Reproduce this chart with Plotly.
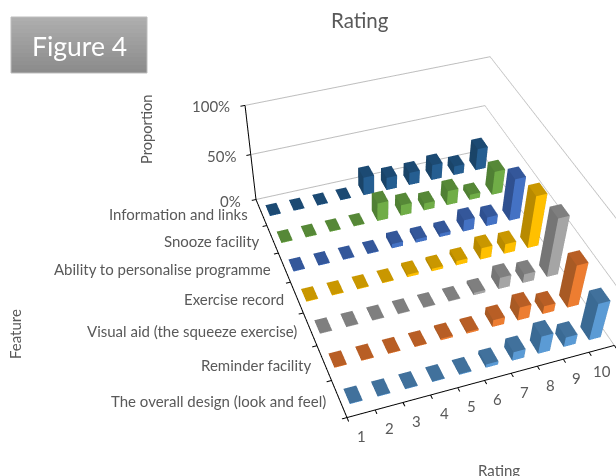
import plotly.graph_objects as go

features = ["The overall design (look and feel)", "Reminder facility",
            "Visual aid (the squeeze exercise)", "Exercise record",
            "Ability to personalise programme", "Snooze facility",
            "Information and links"]
ratings = [1, 2, 3, 4, 5, 6, 7, 8, 9, 10]
proportion_ticks = [0, 0.5, 1]
proportion_labels = ["0%", "50%", "100%"]

overall_design = [0.7, 0.7, 0.7, 0.7, 1, 4, 10, 20, 11, 41]
reminder = [0.7, 0.7, 0.7, 0.7, 2, 2, 8, 15, 9, 47]
visual_aid = [0.7, 0.7, 0.7, 0.7, 0.7, 0.7, 3, 13, 10, 64]
exercise_record = [0.7, 0.7, 0.7, 0.7, 3, 3, 5, 13, 11, 57]
personalise = [0.7, 0.7, 0.7, 0.7, 5, 4, 4, 13, 10, 46]
snooze = [0.7, 0.7, 0.7, 0.7, 20, 12, 8, 16, 6, 26]
information = [0.7, 0.7, 0.7, 0.7, 20, 14, 14, 17, 10, 24]
series = [overall_design, reminder, visual_aid, exercise_record, personalise, snooze, information]

# (front, side, top)
colors = [("#5B9BD5", "#3A6A94", "#41719C"), ("#ED7D31", "#A85A24", "#B85E25"),
          ("#A5A5A5", "#757575", "#7F7F7F"), ("#FFC000", "#B88A00", "#C99700"),
          ("#4472C4", "#2F5090", "#34579A"), ("#70AD47", "#508034", "#568837"),
          ("#255E91", "#1A4468", "#1C4A73")]

FW, FH, TOP = 714, 793, -8
GREY = "#595959"
FONT = "Lato"
BAR_X, BAR_Y = 0.46, 0.40
TICK_SIZE = 15


def box(xc, yc, h):
    x0, x1 = xc - BAR_X / 2, xc + BAR_X / 2
    y0, y1 = yc - BAR_Y / 2, yc + BAR_Y / 2
    return [(x0, y0, 0), (x1, y0, 0), (x1, y1, 0), (x0, y1, 0),
            (x0, y0, h), (x1, y0, h), (x1, y1, h), (x0, y1, h)]


# triangles with the face they belong to
FACES = [((0, 1, 5), 0), ((0, 5, 4), 0),   # front
         ((0, 4, 7), 1), ((0, 7, 3), 1),   # left
         ((4, 5, 6), 2), ((4, 6, 7), 2),   # top
         ((1, 2, 6), 1), ((1, 6, 5), 1),   # right
         ((3, 7, 6), 1), ((3, 6, 2), 1)]   # back

fig = go.Figure()
for row, (vals, cols) in enumerate(zip(series, colors), start=1):
    xs, ys, zs, ii, jj, kk, fc = [], [], [], [], [], [], []
    for r, v in zip(ratings, vals):
        base = len(xs)
        for px_, py_, pz_ in box(r, row, v / 100):
            xs.append(px_); ys.append(py_); zs.append(pz_)
        for (a, b, c), f in FACES:
            ii.append(base + a); jj.append(base + b); kk.append(base + c)
            fc.append(cols[f])
    fig.add_trace(go.Mesh3d(x=xs, y=ys, z=zs, i=ii, j=jj, k=kk, facecolor=fc,
                            flatshading=True, hoverinfo="skip", name=features[row - 1],
                            lighting=dict(ambient=1, diffuse=0, specular=0, fresnel=0, roughness=1)))


def ax(**kw):
    base = dict(title=dict(text=""), showbackground=False, showspikes=False, zeroline=False,
                showline=True, linecolor="black", linewidth=2, ticks="outside", ticklen=4,
                tickcolor="black", tickwidth=2, tickangle=0, autorange=False,
                tickfont=dict(family=FONT, size=TICK_SIZE, color=GREY))
    base.update(kw)
    return base


def pxx(x):
    return x / FW


def pxy(y):
    return 1 - (y - TOP) / FH


annos = [
    dict(x=pxx(360), y=pxy(20), text="Rating", font=dict(size=20.5)),
    dict(x=pxx(499), y=pxy(470), text="Rating", font=dict(size=15)),
    dict(x=pxx(146), y=pxy(129), text="Proportion", textangle=-90, font=dict(size=14.7)),
    dict(x=pxx(15), y=pxy(334), text="Feature", textangle=-90, font=dict(size=15)),
    dict(x=pxx(79), y=pxy(46), text="Figure 4", font=dict(size=26.5, color="white")),
]
for a in annos:
    a.update(xref="paper", yref="paper", showarrow=False, xanchor="center", yanchor="middle")
    a["font"] = dict(family=FONT, color=a["font"].get("color", GREY), size=a["font"]["size"])

shapes = []
BANDS = 14
for b in range(BANDS):
    g = int(174 - (174 - 140) * b / (BANDS - 1))
    shapes.append(dict(type="rect", xref="paper", yref="paper", x0=pxx(11), x1=pxx(147),
                       y0=pxy(17 + 56 * b / BANDS), y1=pxy(17 + 56 * (b + 1) / BANDS),
                       fillcolor=f"rgb({g},{g},{g})", line=dict(width=0)))
shapes.append(dict(type="rect", xref="paper", yref="paper", x0=pxx(11), x1=pxx(147),
                   y0=pxy(17), y1=pxy(73), line=dict(color="#BDBDBD", width=1)))

tick_font = dict(family=FONT, size=TICK_SIZE, color=GREY)
scene_annos = []
for r in ratings:
    scene_annos.append(dict(x=r, y=0.5, z=0, text=str(r), showarrow=False, font=tick_font,
                            xanchor="center", yanchor="middle", yshift=-22))
for row, name in enumerate(features, start=1):
    scene_annos.append(dict(x=0.5, y=row, z=0, text=name, showarrow=False, font=tick_font,
                            xanchor="right", yanchor="middle", xshift=-11, yshift=-2))
for v, name in zip(proportion_ticks, proportion_labels):
    scene_annos.append(dict(x=0.5, y=7.5, z=v, text=name, showarrow=False, font=tick_font,
                            xanchor="right", yanchor="middle", xshift=-13, yshift=-1))

x_edges = [r - 0.5 for r in ratings] + [ratings[-1] + 0.5]
y_edges = [r + 0.5 for r in range(len(features) + 1)]

fig.update_layout(
    width=FW, height=FH, margin=dict(l=0, r=0, t=0, b=0), showlegend=False,
    paper_bgcolor="white", font=dict(family=FONT, color=GREY),
    annotations=annos, shapes=shapes,
    scene=dict(
        domain=dict(x=[0, 1], y=[0, 1]),
        annotations=scene_annos,
        aspectmode="manual", aspectratio=dict(x=1, y=1.205, z=0.447),
        camera=dict(eye=dict(x=-1.0694, y=-2.4966, z=2.3037),
                    center=dict(x=-0.3877, y=-0.3673, z=-0.3824),
                    up=dict(x=0.2507, y=0.7271, z=0.640),
                    projection=dict(type="perspective")),
        xaxis=ax(range=[0.5, 10.5], tickvals=x_edges, ticktext=[" "] * len(x_edges), showgrid=False),
        yaxis=ax(range=[0.5, 7.5], tickvals=y_edges, ticktext=[" "] * len(y_edges), showgrid=False),
        zaxis=ax(range=[0, 1], tickvals=proportion_ticks, ticktext=[" "] * 3,
                 showgrid=True, gridcolor="#BDBDBD", gridwidth=2),
    ),
)

post = ("document.documentElement.style.overflow='hidden';"
        "document.body.style.overflow='hidden';document.body.style.margin='0';"
        "var g=document.getElementById('{plot_id}');g.style.position='absolute';"
        f"g.style.left='0px';g.style.top='{TOP}px';")
fig.write_html("out.html", post_script=post, config=dict(displayModeBar=False))
